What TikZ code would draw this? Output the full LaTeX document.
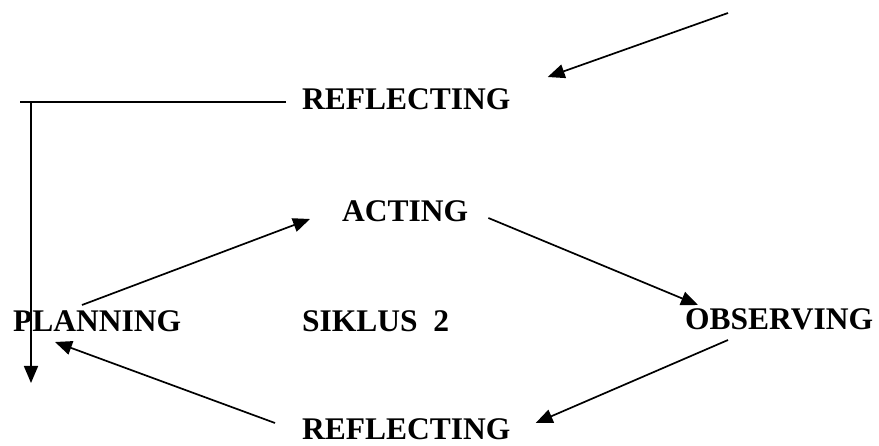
\documentclass[tikz,border=0pt]{standalone}
\usepackage{fontspec}
\setmainfont{Liberation Serif}
\usetikzlibrary{arrows.meta,calc}

\begin{document}
\begin{tikzpicture}[x=1pt, y=-1pt,
      lbl/.style={inner sep=0pt, anchor=base west, font=\fontsize{31.5}{36}\selectfont\bfseries},
      ln/.style={line width=1.7pt},
      arr/.style={ln, -{Triangle[length=17pt,width=14pt]}}]
    \useasboundingbox (0,0) rectangle (879,446);
    % stage labels
    \node[lbl] (refT) at (302,110) {REFLECTING};
    \node[lbl] (act) at (342,222) {ACTING};
    \node[lbl] (plan) at (13,332) {PLANNING};
    \node[lbl] (siklus) at (302,332) {SIKLUS\ \ 2};
    \node[lbl] (obs) at (685,330) {OBSERVING};
    \node[lbl] (refB) at (302,439) {REFLECTING};
    % free ends
    \coordinate (inTop) at (728,13);
    \coordinate (outL) at (20,102);
    \coordinate (outD) at (31,383);
    % cycle
    \draw[arr] (inTop) -- ($(refT.base east)+(37,-33)$);
    \draw[ln] ($(refT.base west)+(-16,-8)$) -- (outL);
    \draw[arr] (outL -| outD) -- (outD);
    \draw[arr] ($(plan.base west)+(69,-27)$) -- ($(act.base west)+(-32,-3)$);
    \draw[arr] ($(act.base east)+(20,-4)$) -- ($(obs.base west)+(13,-25)$);
    \draw[arr] ($(obs.base west)+(43,10)$) -- ($(refB.base east)+(25,-16)$);
    \draw[arr] ($(refB.base west)+(-27,-16)$) -- ($(plan.base west)+(42,10)$);
\end{tikzpicture}
\end{document}
